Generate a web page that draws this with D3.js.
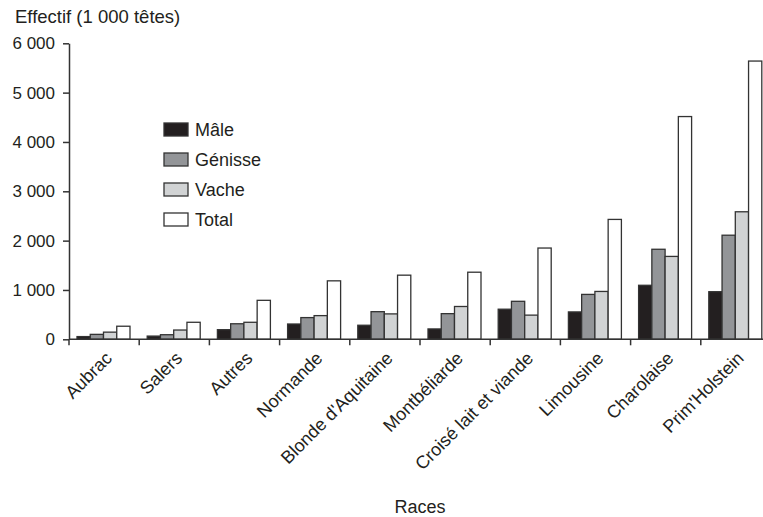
<!DOCTYPE html>
<html><head><meta charset="utf-8">
<script src="https://cdn.jsdelivr.net/npm/d3@7"></script>
<style>
html,body{margin:0;padding:0;background:#fff;}
svg{display:block;font-family:"Liberation Sans",Arial,Helvetica,sans-serif;}
</style></head>
<body>
<svg id="chart" width="763" height="517"></svg>
<script>
const categories = ["Aubrac","Salers","Autres","Normande","Blonde d'Aquitaine","Montbéliarde","Croisé lait et viande","Limousine","Charolaise","Prim'Holstein"];
const seriesNames = ["Mâle","Génisse","Vache","Total"];
const male    = [55, 65, 195, 310, 285, 210, 610, 555, 1095, 965];
const genisse = [100, 93, 315, 440, 560, 520, 770, 910, 1825, 2110];
const vache   = [145, 188, 345, 480, 515, 665, 490, 970, 1680, 2585];
const total   = [265, 345, 790, 1185, 1300, 1360, 1850, 2430, 4515, 5640];
const yTicks  = [0, 1000, 2000, 3000, 4000, 5000, 6000];
const colors  = ["#231f20", "#939598", "#d1d3d4", "#ffffff"];

const seriesValues = [male, genisse, vache, total];
const rows = categories.map((c, i) => ({cat: c, vals: seriesValues.map((s, k) => ({key: seriesNames[k], v: s[i], k}))}));

const svg = d3.select("#chart");
const left = 69, right = 771, yBottom = 339.3, yTop = 43.3;
const x = d3.scaleBand().domain(categories).range([left, right]).padding(0);
const x1 = d3.scaleBand().domain(seriesNames).range([8, 61]).padding(0);
const y = d3.scaleLinear().domain([0, 6000]).range([yBottom, yTop]);
const fmt = d3.formatLocale({decimal: ",", thousands: " ", grouping: [3], currency: ["", " €"]}).format(",d");
const ink = "#333";

// bars
const g = svg.append("g");
g.selectAll("g.grp").data(rows).join("g")
  .attr("transform", d => `translate(${x(d.cat)},0)`)
  .selectAll("rect").data(d => d.vals).join("rect")
  .attr("x", d => x1(d.key))
  .attr("width", x1.bandwidth())
  .attr("y", d => y(d.v))
  .attr("height", d => y(0) - y(d.v))
  .attr("fill", d => colors[d.k])
  .attr("stroke", ink)
  .attr("stroke-width", 1.3);

// y axis
const yAxis = svg.append("g").attr("transform", `translate(${left},0)`)
  .call(d3.axisLeft(y).tickValues(yTicks).tickFormat(fmt).tickSize(6).tickSizeOuter(0).tickPadding(8));
yAxis.select(".domain").attr("stroke", ink).attr("stroke-width", 1.5);
yAxis.selectAll(".tick line").attr("stroke", ink).attr("stroke-width", 1.5);
yAxis.selectAll(".tick text").attr("font-size", 17).attr("fill", "#231f20").attr("font-family", "Liberation Sans, Arial, sans-serif");

// x axis
svg.append("line").attr("x1", left).attr("x2", right).attr("y1", y(0)).attr("y2", y(0))
  .attr("stroke", ink).attr("stroke-width", 1.5);
svg.append("g").selectAll("line").data(categories).join("line")
  .attr("x1", d => x(d)).attr("x2", d => x(d))
  .attr("y1", y(0)).attr("y2", y(0) + 6)
  .attr("stroke", ink).attr("stroke-width", 1.5);

svg.append("g").selectAll("text").data(categories).join("text")
  .attr("transform", d => `translate(${x(d) + x.bandwidth()/2 + 9},${y(0) + 20}) rotate(-45)`)
  .attr("text-anchor", "end")
  .attr("font-size", 18)
  .attr("fill", "#231f20")
  .text(d => d);

// titles
svg.append("text").attr("x", 15).attr("y", 23).attr("font-size", 18.5).attr("fill", "#231f20").text("Effectif (1 000 têtes)");
svg.append("text").attr("x", 420).attr("y", 513).attr("text-anchor", "middle").attr("font-size", 18).attr("fill", "#231f20").text("Races");

// legend
const lg = svg.append("g").attr("transform", "translate(164,123)");
const li = lg.selectAll("g").data(seriesNames).join("g").attr("transform", (d, i) => `translate(0,${i * 30})`);
li.append("rect").attr("width", 24).attr("height", 13)
  .attr("fill", (d, i) => colors[i]).attr("stroke", ink).attr("stroke-width", 1.3);
li.append("text").attr("x", 31).attr("y", 13).attr("font-size", 18).attr("fill", "#231f20").text(d => d);
</script>
</body></html>
